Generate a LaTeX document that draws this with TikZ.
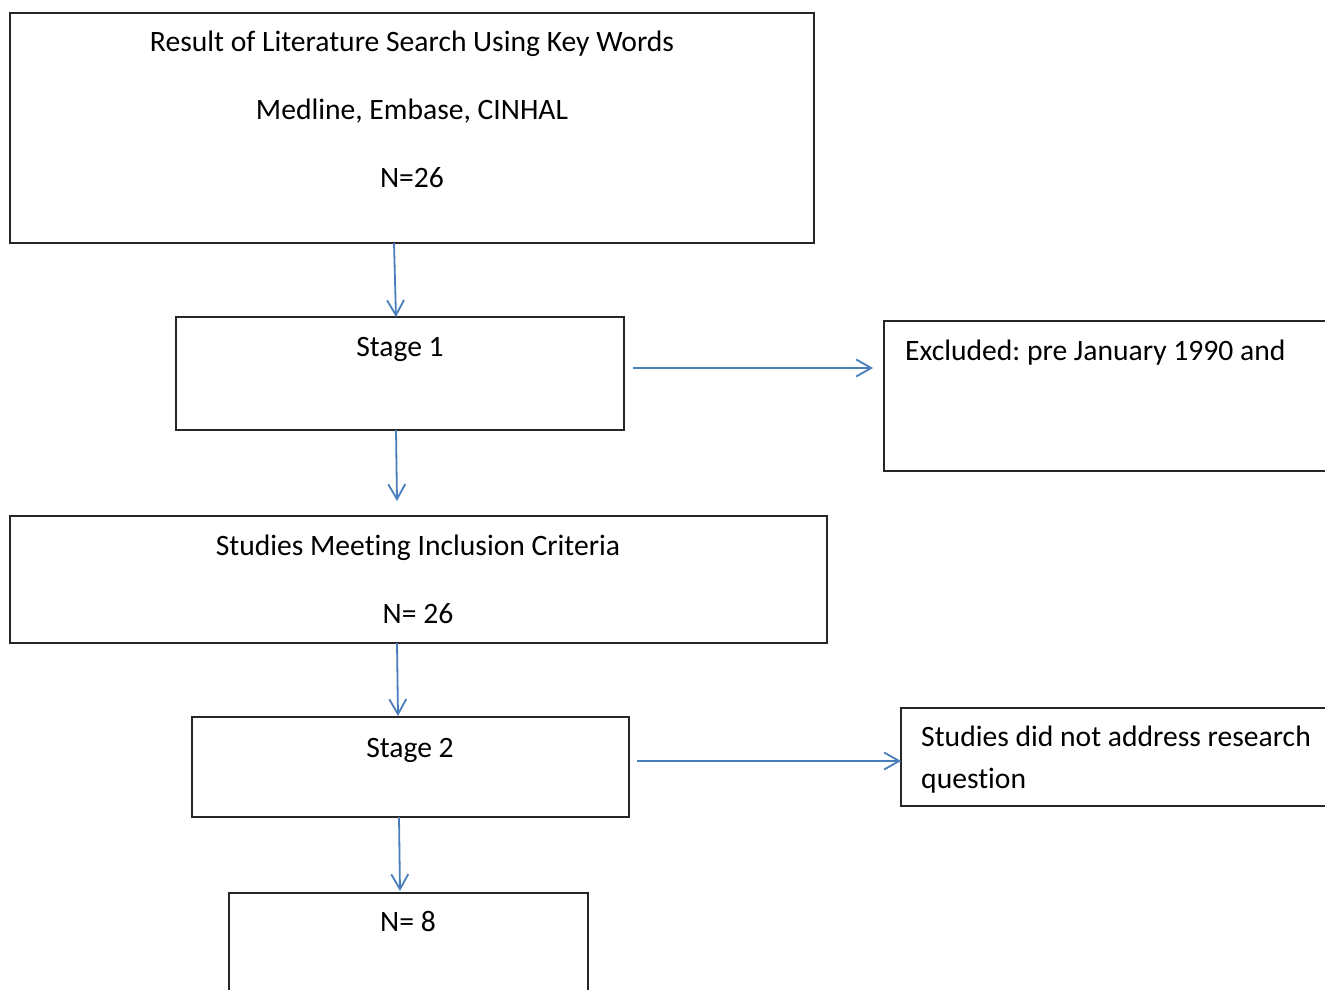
\documentclass[tikz,border=0pt]{standalone}
\usepackage{fontspec}
\setmainfont[Ligatures={NoCommon}]{Carlito}
\frenchspacing
\usetikzlibrary{arrows.meta}
\definecolor{arrblue}{HTML}{4A7EBB}
\tikzset{
  box/.style={draw=black!85, line width=1.4pt, inner sep=0pt},
  txt/.style={anchor=base, inner sep=0pt, font=\fontsize{29.6}{35}\selectfont},
  ltxt/.style={anchor=base west, inner sep=0pt, font=\fontsize{29.6}{35}\selectfont},
  conn/.style={draw=arrblue, line width=1.8pt, -{Straight Barb[length=15pt,width=17pt,line width=1.8pt]}}
}
\begin{document}
\begin{tikzpicture}[x=1pt,y=-1pt]
\useasboundingbox (0,0) rectangle (1325,990);
\clip (0,0) rectangle (1325,990);
% boxes
\draw[box] (10,13) rectangle (814,243);
\draw[box] (176,317) rectangle (624,430);
\draw[box] (884,321) rectangle (1340,471);
\draw[box] (10,516) rectangle (827,643);
\draw[box] (192,717) rectangle (629,817);
\draw[box] (901,708) rectangle (1340,806);
\draw[box] (229,893) rectangle (588,1010);
% texts
\node[txt] (t1) at (412,52) {Result of Literature Search Using Key Words};
\node[txt] (t2) at (412,119) {Medline, Embase, CINHAL};
\node[txt] (t3) at (412,187) {N=26};
\node[txt] (t4) at (400,356) {Stage 1};
\node[ltxt] (t5) at (905,360) {Excluded: pre January 1990 and};
\node[txt] (t6) at (418,555) {Studies Meeting Inclusion Criteria};
\node[txt] (t7) at (418,623) {N= 26};
\node[txt] (t8) at (410,757) {Stage 2};
\node[ltxt] (t9) at (921,746) {Studies did not address research};
\node[ltxt] (t10) at (921,788) {question};
\node[txt] (t11) at (408,931) {N= 8};
% connector ends
\coordinate (a1s) at (394,243); \coordinate (a1e) at (396,317);
\coordinate (a2s) at (396,430); \coordinate (a2e) at (397,501);
\coordinate (a3s) at (397,643); \coordinate (a3e) at (398,716);
\coordinate (a4s) at (399,817); \coordinate (a4e) at (400,891);
\coordinate (h1s) at (633,368); \coordinate (h1e) at (873,368);
\coordinate (h2s) at (637,761); \coordinate (h2e) at (901,761);
\draw[conn] (a1s) -- (a1e);
\draw[conn] (a2s) -- (a2e);
\draw[conn] (a3s) -- (a3e);
\draw[conn] (a4s) -- (a4e);
\draw[conn] (h1s) -- (h1e);
\draw[conn] (h2s) -- (h2e);
\end{tikzpicture}
\end{document}
